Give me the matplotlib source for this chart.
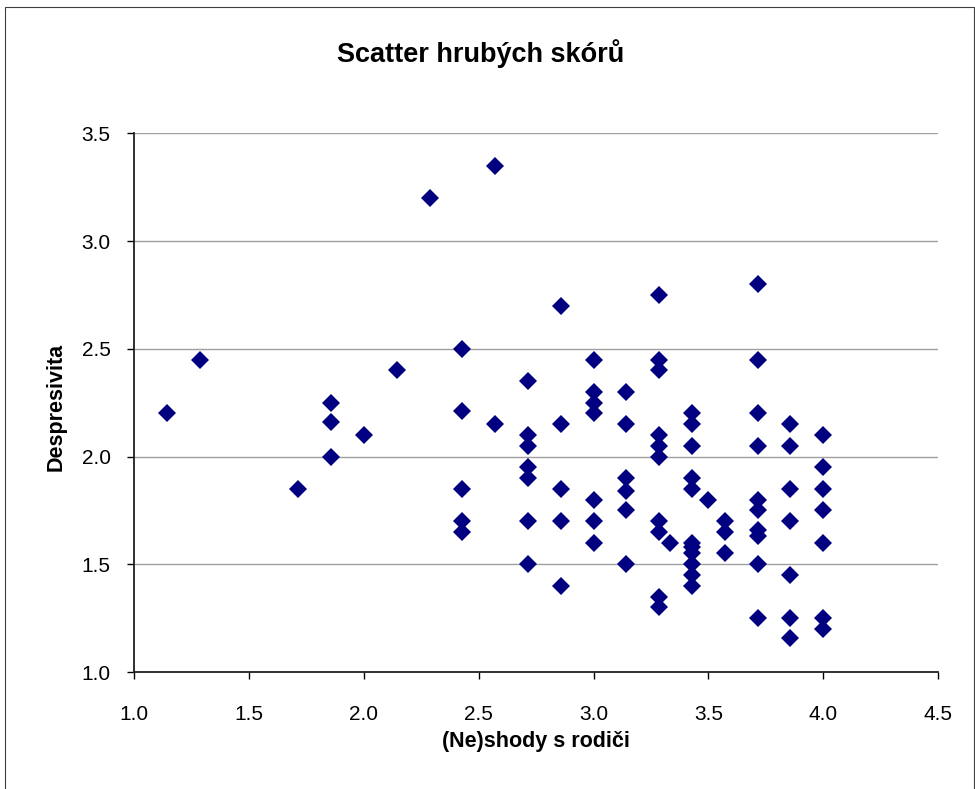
import matplotlib
matplotlib.use("Agg")
import matplotlib.pyplot as plt
from matplotlib.lines import Line2D

plt.rcParams['font.family'] = ['Liberation Sans', 'DejaVu Sans']

# (Ne)shody s rodici - x
neshody = [1.143,
           1.286,
           1.714,
           1.857, 1.857, 1.857,
           2.0,
           2.143,
           2.286,
           2.429, 2.429, 2.429, 2.429, 2.429,
           2.571, 2.571,
           2.714, 2.714, 2.714, 2.714, 2.714, 2.714, 2.714,
           2.857, 2.857, 2.857, 2.857, 2.857,
           3.0, 3.0, 3.0, 3.0, 3.0, 3.0, 3.0,
           3.143, 3.143, 3.143, 3.143, 3.143, 3.143,
           3.286, 3.286, 3.286, 3.286, 3.286, 3.286, 3.286, 3.286, 3.286, 3.286,
           3.333,
           3.429, 3.429, 3.429, 3.429, 3.429, 3.429, 3.429, 3.429, 3.429, 3.429, 3.429,
           3.5,
           3.571, 3.571, 3.571,
           3.714, 3.714, 3.714, 3.714, 3.714, 3.714, 3.714, 3.714, 3.714, 3.714,
           3.857, 3.857, 3.857, 3.857, 3.857, 3.857, 3.857,
           4.0, 4.0, 4.0, 4.0, 4.0, 4.0, 4.0]

# Despresivita - y
depresivita = [2.2,
               2.45,
               1.85,
               2.25, 2.16, 2.0,
               2.1,
               2.4,
               3.2,
               2.5, 2.21, 1.85, 1.7, 1.65,
               3.35, 2.15,
               2.35, 2.1, 2.05, 1.95, 1.9, 1.7, 1.5,
               2.7, 2.15, 1.85, 1.7, 1.4,
               2.45, 2.3, 2.25, 2.2, 1.8, 1.7, 1.6,
               2.3, 2.15, 1.9, 1.84, 1.75, 1.5,
               2.75, 2.45, 2.4, 2.1, 2.05, 2.0, 1.7, 1.65, 1.35, 1.3,
               1.6,
               2.2, 2.15, 2.05, 1.9, 1.85, 1.6, 1.58, 1.55, 1.5, 1.45, 1.4,
               1.8,
               1.7, 1.65, 1.55,
               2.8, 2.45, 2.2, 2.05, 1.8, 1.75, 1.66, 1.63, 1.5, 1.25,
               2.15, 2.05, 1.85, 1.7, 1.45, 1.25, 1.16,
               2.1, 1.95, 1.85, 1.75, 1.6, 1.25, 1.2]

xticks = [1.0, 1.5, 2.0, 2.5, 3.0, 3.5, 4.0, 4.5]
yticks = [1.0, 1.5, 2.0, 2.5, 3.0, 3.5]

W, H = 975, 789
fig = plt.figure(figsize=(W / 100, H / 100), dpi=100)
ax = fig.add_axes([134.3 / W, 1 - 672 / H, (938 - 134.3) / W, (672 - 133.3) / H])

ax.plot(neshody, depresivita, 'D', color='#000080', markersize=9, markeredgewidth=0, zorder=3)

ax.set_xlim(1.0, 4.5)
ax.set_ylim(1.0, 3.5)
ax.set_xticks(xticks)
ax.set_yticks(yticks)
ax.set_xticklabels(["%.1f" % v for v in xticks])
ax.set_yticklabels(["%.1f" % v for v in yticks])
ax.tick_params(axis='x', direction='out', length=5, width=1, pad=19, labelsize=15)
ax.tick_params(axis='y', direction='out', length=5, width=1, pad=12, labelsize=15)

for g in yticks[1:]:
    ax.axhline(g, color='#a0a0a0', lw=1, zorder=1)

ax.spines['top'].set_visible(False)
ax.spines['right'].set_visible(False)
ax.spines['left'].set_linewidth(1.3)
ax.spines['bottom'].set_linewidth(1.3)
ax.spines['left'].set_color('#202020')
ax.spines['bottom'].set_color('#202020')

fig.text(481 / W, 1 - 62 / H, "Scatter hrubých skórů", ha='center', va='baseline',
         fontsize=19.5, fontweight='bold')
fig.text(536 / W, 1 - 747 / H, "(Ne)shody s rodiči", ha='center', va='baseline',
         fontsize=15.5, fontweight='bold')
fig.text(56 / W, 1 - 407 / H, "Despresivita", ha='center', va='center',
         rotation=90, fontsize=15.5, fontweight='bold')

# outer chart frame (bottom edge is cut off in the original)
fx = [4.5 / W, 4.5 / W, 973.5 / W, 973.5 / W]
fy = [0.0, 1 - 6.5 / H, 1 - 6.5 / H, 0.0]
fig.add_artist(Line2D(fx, fy, color='#404040', lw=0.8, transform=fig.transFigure))

fig.savefig("out.png", dpi=100)
